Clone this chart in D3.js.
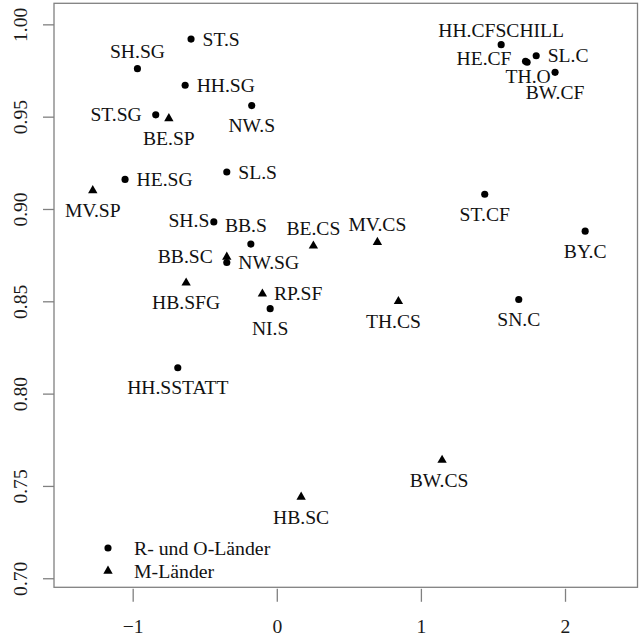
<!DOCTYPE html>
<meta charset="utf-8">
<head>
    <title>Streuung R-/O-Länder und M-Länder</title>
</head>
<style>
  body { margin: 0; background: #fff; }
  svg text { font-family: "Liberation Serif", "Times New Roman", Times, serif; }
</style>
<script src="https://d3js.org/d3.v7.min.js"></script>

<div id="my_dataviz"></div>

<script>

// point labels
var labels = ["ST.S", "SH.SG", "HH.SG", "NW.S", "ST.SG", "BE.SP", "SL.S", "HE.SG", "MV.SP", "SH.S",
              "BB.S", "BB.SC", "NW.SG", "HB.SFG", "RP.SF", "NI.S", "BE.CS", "MV.CS", "TH.CS", "SN.C",
              "ST.CF", "BY.C", "HH.CFSCHILL", "SL.C", "HE.CF", "TH.O", "BW.CF", "HH.SSTATT", "HB.SC", "BW.CS"];
var xValues = [-0.595, -0.967, -0.636, -0.174, -0.840, -0.749, -0.347, -1.053, -1.277, -0.437,
               -0.180, -0.347, -0.347, -0.629, -0.100, -0.046, 0.254, 0.698, 0.844, 1.679,
               1.443, 2.140, 1.557, 1.800, 1.726, 1.737, 1.931, -0.687, 0.169, 1.147];
var yValues = [0.992, 0.976, 0.967, 0.956, 0.951, 0.949, 0.920, 0.916, 0.910, 0.893,
               0.881, 0.874, 0.871, 0.860, 0.854, 0.846, 0.880, 0.882, 0.850, 0.851,
               0.908, 0.888, 0.989, 0.983, 0.980, 0.9795, 0.974, 0.814, 0.744, 0.764];
// 0 = R- und O-Länder (dot), 1 = M-Länder (triangle)
var groups = [0, 0, 0, 0, 0, 1, 0, 0, 1, 0,
              0, 1, 0, 1, 1, 0, 1, 1, 1, 0,
              0, 0, 0, 0, 0, 0, 0, 0, 1, 1];
// where the label sits, like R's pos: 1 below, 2 left, 3 above, 4 right
var labelSide = [4, 3, 4, 1, 2, 1, 4, 4, 1, 2,
                 3, 2, 4, 1, 4, 1, 3, 3, 1, 1,
                 1, 1, 3, 4, 2, 1, 1, 1, 1, 1];
// a few labels were shifted by hand in the original (px)
var labelNudge = {
    "SH.S": [9.5, -1], "BB.S": [-5, -1], "TH.CS": [-5, 0], "HH.CFSCHILL": [0, 3.5],
    "TH.O": [1, -6], "HE.CF": [0, -2.5], "BW.CS": [-3, 0]
};

var legendLabels = ["R- und O-Länder", "M-Länder"];
var xTicks = [-1, 0, 1, 2];
var yTicks = [0.70, 0.75, 0.80, 0.85, 0.90, 0.95, 1.00];

var data = labels.map(function(d, i) {
    return {name: d, x: xValues[i], y: yValues[i], g: groups[i], side: labelSide[i]};
});

var width = 639,
    height = 638;

var serif = "'Liberation Serif', 'Times New Roman', Times, serif";
var fontSize = "19.6px";

var svg = d3.select("#my_dataviz")
  .append("svg")
    .attr("width", width)
    .attr("height", height)
    .style("font-family", serif);

// plot region
var box = {left: 54, right: 637.5, top: 3.3, bottom: 587.3};

var xScale = d3.scaleLinear()
    .domain([-1.546, 2.503])
    .range([box.left, box.right]);

var yScale = d3.scaleLinear()
    .domain([0.6951, 1.0114])
    .range([box.bottom, box.top]);

var lineCol = "#808080";

// frame
svg.append("rect")
    .attr("x", box.left)
    .attr("y", box.top)
    .attr("width", box.right - box.left)
    .attr("height", box.bottom - box.top)
    .attr("fill", "none")
    .attr("stroke", lineCol)
    .attr("stroke-width", 1.3);

// x axis
var xAxis = svg.append("g")
    .attr("transform", "translate(0," + (box.bottom + 1.5) + ")")
    .call(d3.axisBottom(xScale).tickValues(xTicks).tickSize(13).tickFormat(d3.format("d")));
xAxis.attr("font-family", null).attr("font-size", null);
xAxis.select(".domain").remove();
xAxis.selectAll("line").attr("stroke", lineCol).attr("stroke-width", 1.3);
xAxis.selectAll("text")
    .attr("y", 44)
    .attr("dy", null)
    .attr("fill", "#1a1a1a")
    .style("font-size", fontSize)
    .style("font-family", serif);

// y axis, labels turned like R's las = 0
var yAxis = svg.append("g")
    .attr("transform", "translate(" + box.left + ",0)")
    .call(d3.axisLeft(yScale).tickValues(yTicks).tickSize(11).tickFormat(d3.format(".2f")));
yAxis.attr("font-family", null).attr("font-size", null);
yAxis.select(".domain").remove();
yAxis.selectAll("line").attr("stroke", lineCol).attr("stroke-width", 1.3);
yAxis.selectAll("text")
    .attr("transform", "rotate(-90)")
    .attr("x", 0)
    .attr("y", -27)
    .attr("dy", null)
    .attr("text-anchor", "middle")
    .attr("fill", "#1a1a1a")
    .style("font-size", fontSize)
    .style("font-family", serif);

var dot = d3.symbol().type(d3.symbolCircle).size(40);
var tri = d3.symbol().type(d3.symbolTriangle).size(38);

// points
svg.selectAll(".pt")
  .data(data)
  .enter()
  .append("path")
    .attr("class", "pt")
    .attr("d", function(d) { return d.g === 0 ? dot() : tri(); })
    .attr("transform", function(d) { return "translate(" + xScale(d.x) + "," + yScale(d.y) + ")"; })
    .attr("fill", "#000");

// point labels
var offs = {
    1: {dx: 0, dy: 26.5, anchor: "middle"},
    2: {dx: -14, dy: 6.5, anchor: "end"},
    3: {dx: 0, dy: -11, anchor: "middle"},
    4: {dx: 11.5, dy: 6.5, anchor: "start"}
};
function nudge(d, k) {
    return labelNudge[d.name] ? labelNudge[d.name][k] : 0;
}
svg.selectAll(".lab")
  .data(data)
  .enter()
  .append("text")
    .attr("class", "lab")
    .attr("x", function(d) { return xScale(d.x) + offs[d.side].dx + nudge(d, 0); })
    .attr("y", function(d) { return yScale(d.y) + offs[d.side].dy + nudge(d, 1); })
    .attr("text-anchor", function(d) { return offs[d.side].anchor; })
    .style("font-size", fontSize)
    .attr("fill", "#111")
    .text(function(d) { return d.name; });

// legend
var legend = svg.append("g").attr("transform", "translate(108,548)");
legend.selectAll("path")
  .data(legendLabels)
  .enter()
  .append("path")
    .attr("d", function(d, i) { return i === 0 ? dot() : tri(); })
    .attr("transform", function(d, i) { return "translate(0," + (i * 23) + ")"; })
    .attr("fill", "#000");
legend.selectAll("text")
  .data(legendLabels)
  .enter()
  .append("text")
    .attr("x", 26)
    .attr("y", function(d, i) { return 6.5 + i * 23.5; })
    .style("font-size", "19.8px")
    .attr("fill", "#111")
    .text(function(d) { return d; });

</script>
